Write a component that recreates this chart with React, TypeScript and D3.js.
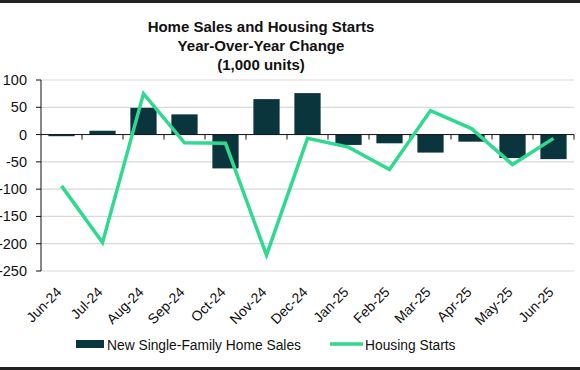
import React from "react";
import * as d3 from "d3";

const categories = ["Jun-24","Jul-24","Aug-24","Sep-24","Oct-24","Nov-24","Dec-24","Jan-25","Feb-25","Mar-25","Apr-25","May-25","Jun-25"];
const homeSales = [-3, 7, 49, 37, -62, 65, 76, -19, -16, -33, -13, -43, -45];
const housingStarts = [-94, -198, 75, -15, -16, -221, -7, -23, -64, 44, 11, -55, -7];
const yTicks = [100, 50, 0, -50, -100, -150, -200, -250];
const titleLines = ["Home Sales and Housing Starts", "Year-Over-Year Change", "(1,000 units)"];

const W = 580, H = 370;
const left = 41, right = 574, top = 80, bottom = 271;
const barColor = "#0b353d";
const lineColor = "#2fd98f";
const font = "'Liberation Sans', Arial, sans-serif";

export default function App() {
  const x = d3.scaleBand<string>().domain(categories).range([left, right]).paddingInner(0.36).paddingOuter(0.18);
  const xb = d3.scaleBand<string>().domain(categories).range([left, right]);
  const y = d3.scaleLinear().domain([-250, 100]).range([bottom, top]);
  const line = d3.line<number>().x((_, i) => (xb(categories[i]) as number) + xb.bandwidth() / 2).y((d) => y(d));
  return (
    <svg width={W} height={H} style={{ position: "fixed", left: 0, top: 0, background: "#fff" }} fontFamily={font}>
      <rect x={0} y={0} width={W} height={3} fill="#222" />
      <rect x={0} y={367} width={W} height={3} fill="#222" />
      {titleLines.map((t, i) => (
        <text key={t} x={261} y={32 + i * 19} textAnchor="middle" fontSize={15} fontWeight="bold" fill="#111">{t}</text>
      ))}
      {yTicks.map((v) => (
        <g key={v}>
          {v !== 0 && <line x1={left} x2={right} y1={y(v)} y2={y(v)} stroke="#d9d9d9" strokeWidth={1.2} />}
          <line x1={left - 5} x2={left} y1={y(v)} y2={y(v)} stroke="#111" />
          <text x={27} y={y(v) + 5} textAnchor="end" fontSize={14.5} fill="#111">{v}</text>
        </g>
      ))}
      <line x1={left} x2={left} y1={top} y2={bottom} stroke="#111" />
      {categories.map((c, i) => {
        const v = homeSales[i];
        return <rect key={c} x={x(c)} width={x.bandwidth()} y={y(Math.max(0, v))} height={Math.abs(y(v) - y(0))} fill={barColor} />;
      })}
      <line x1={left} x2={right} y1={y(0)} y2={y(0)} stroke="#111" />
      {categories.map((c, i) => (
        <line key={c} x1={(xb(c) as number) + xb.bandwidth()} x2={(xb(c) as number) + xb.bandwidth()} y1={y(0)} y2={y(0) + 5} stroke="#111" />
      ))}
      <path d={line(housingStarts) || ""} fill="none" stroke={lineColor} strokeWidth={3.5} strokeLinejoin="miter" />
      {categories.map((c) => {
        const cx = (xb(c) as number) + xb.bandwidth() / 2;
        return (
          <text key={c} transform={`translate(${cx + 1},${293}) rotate(-45)`} textAnchor="end" fontSize={14} fill="#111">{c}</text>
        );
      })}
      <rect x={76} y={340} width={28} height={8} fill={barColor} />
      <text x={107} y={349.5} fontSize={13.8} fill="#111">New Single-Family Home Sales</text>
      <line x1={330} x2={363} y1={344} y2={344} stroke={lineColor} strokeWidth={3.5} />
      <text x={365} y={349.5} fontSize={13.8} fill="#111">Housing Starts</text>
    </svg>
  );
}
